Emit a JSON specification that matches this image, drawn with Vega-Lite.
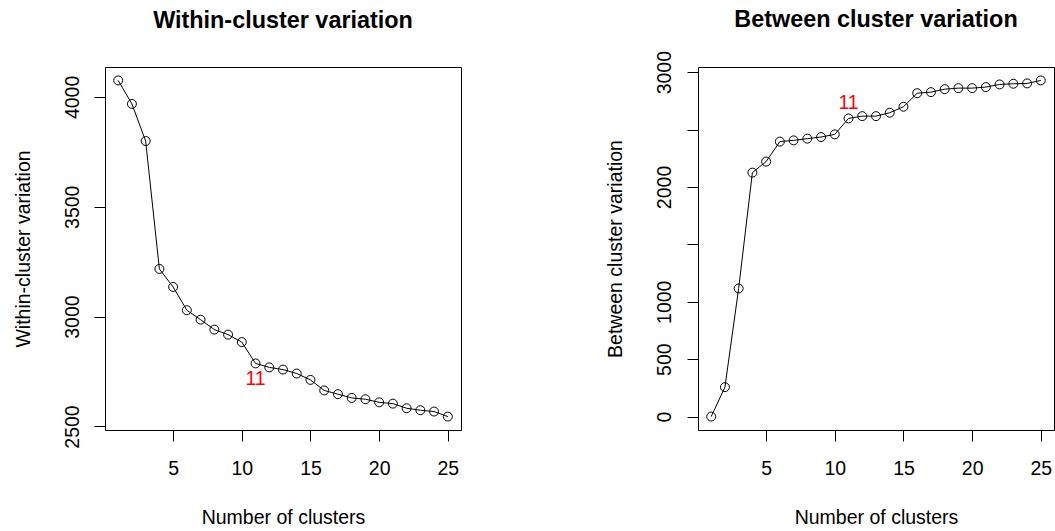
{
  "$schema": "https://vega.github.io/schema/vega-lite/v6.json",
  "background": "white",
  "padding": {"left": 12, "top": 7, "right": 0, "bottom": 0},
  "autosize": {"type": "pad"},
  "config": {
    "font": "Liberation Sans",
    "view": {"stroke": "#000", "strokeWidth": 1},
    "axis": {"grid": false, "domain": false, "tickColor": "#000", "tickSize": 11, "labelColor": "#000", "titleColor": "#000", "labelFontSize": 19.5, "titleFontSize": 19.5, "titleFontWeight": "normal", "labelFont": "Liberation Sans", "titleFont": "Liberation Sans"},
    "title": {"fontSize": 23.4, "fontWeight": "bold", "color": "#000", "anchor": "middle", "frame": "group", "font": "Liberation Sans"}
  },
  "datasets": {
    "clusters": [
      {"k": 1, "within": 4075, "between": 0},
      {"k": 2, "within": 3968, "between": 256},
      {"k": 3, "within": 3799, "between": 1116},
      {"k": 4, "within": 3217, "between": 2125},
      {"k": 5, "within": 3135, "between": 2221},
      {"k": 6, "within": 3029, "between": 2395},
      {"k": 7, "within": 2986, "between": 2406},
      {"k": 8, "within": 2941, "between": 2421},
      {"k": 9, "within": 2918, "between": 2435},
      {"k": 10, "within": 2884, "between": 2458},
      {"k": 11, "within": 2787, "between": 2597},
      {"k": 12, "within": 2769, "between": 2617},
      {"k": 13, "within": 2759, "between": 2617},
      {"k": 14, "within": 2741, "between": 2647},
      {"k": 15, "within": 2712, "between": 2699},
      {"k": 16, "within": 2664, "between": 2817},
      {"k": 17, "within": 2647, "between": 2826},
      {"k": 18, "within": 2630, "between": 2852},
      {"k": 19, "within": 2624, "between": 2861},
      {"k": 20, "within": 2610, "between": 2861},
      {"k": 21, "within": 2604, "between": 2870},
      {"k": 22, "within": 2583, "between": 2893},
      {"k": 23, "within": 2574, "between": 2899},
      {"k": 24, "within": 2568, "between": 2902},
      {"k": 25, "within": 2545, "between": 2928}
    ]
  },
  "spacing": 142,
  "hconcat": [
    {
      "width": 356,
      "height": 363,
      "title": {"text": "Within-cluster variation", "offset": 34},
      "data": {"name": "clusters"},
      "encoding": {
        "x": {"field": "k", "type": "quantitative", "scale": {"domain": [0.04, 25.96], "nice": false, "zero": false}, "axis": {"values": [5, 10, 15, 20, 25], "title": "Number of clusters", "labelPadding": 18, "titlePadding": 31}},
        "y": {"field": "within", "type": "quantitative", "scale": {"domain": [2484, 4136], "nice": false, "zero": false}, "axis": {"values": [2500, 3000, 3500, 4000], "format": "d", "labelAngle": -90, "labelPadding": 12, "titlePadding": 29, "title": "Within-cluster variation"}}
      },
      "layer": [
        {"mark": {"type": "line", "color": "#000", "strokeWidth": 1}},
        {"mark": {"type": "point", "shape": "circle", "filled": false, "color": "#000", "size": 80, "strokeWidth": 1, "opacity": 1}},
        {"transform": [{"filter": "datum.k == 11"}], "mark": {"type": "text", "color": "#ff0000", "fontSize": 19.5, "dy": 16, "font": "Liberation Sans"}, "encoding": {"text": {"field": "k", "type": "nominal"}}}
      ]
    },
    {
      "width": 356,
      "height": 363,
      "title": {"text": "Between cluster variation", "offset": 18},
      "data": {"name": "clusters"},
      "encoding": {
        "x": {"field": "k", "type": "quantitative", "scale": {"domain": [0.04, 25.96], "nice": false, "zero": false}, "axis": {"values": [5, 10, 15, 20, 25], "title": "Number of clusters", "labelPadding": 18, "titlePadding": 31}},
        "y": {"field": "between", "type": "quantitative", "scale": {"domain": [-117, 3045], "nice": false, "zero": false}, "axis": {"values": [0, 500, 1000, 1500, 2000, 2500, 3000], "format": "d", "labelExpr": "datum.value == 1500 || datum.value == 2500 ? '' : datum.label", "labelAngle": -90, "labelPadding": 13, "titlePadding": 29, "title": "Between cluster variation"}}
      },
      "layer": [
        {"mark": {"type": "line", "color": "#000", "strokeWidth": 1}},
        {"mark": {"type": "point", "shape": "circle", "filled": false, "color": "#000", "size": 80, "strokeWidth": 1, "opacity": 1}},
        {"transform": [{"filter": "datum.k == 11"}], "mark": {"type": "text", "color": "#ff0000", "fontSize": 19.5, "dy": -15, "font": "Liberation Sans"}, "encoding": {"text": {"field": "k", "type": "nominal"}}}
      ]
    }
  ]
}
